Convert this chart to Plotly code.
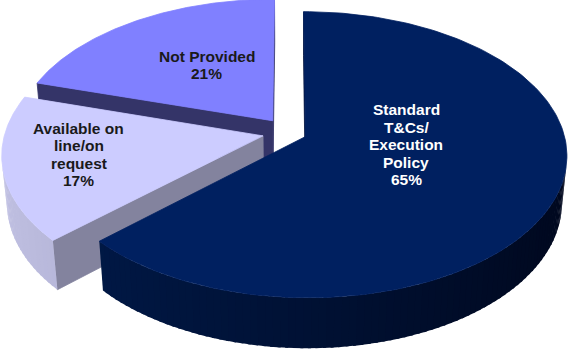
import numpy as np
import plotly.graph_objects as go

# Slices in clockwise order starting from 12 o'clock
categories = ["Standard<br>T&Cs/<br>Execution<br>Policy",
              "Available on<br>line/on<br>request",
              "Not Provided"]
values = [65, 17, 21]

# Styling per slice
top_colors = ["#002060", "#CCCCFF", "#8080FF"]
side_light = [(0, 26, 74), (192, 192, 226), (70, 70, 140)]
side_dark = [(0, 8, 30), (132, 132, 168), (40, 40, 90)]
radial_colors = ["#00123F", "#83839E", "#343468"]
text_colors = ["#FFFFFF", "#1A1A1A", "#1A1A1A"]
explode = [0.07, 0.103, 0.107]
label_r = [0.39, 0.71, 0.51]
label_turn = [-15.0, 2.5, 4.0]

W, Hpx = 568, 353

# 3D pie projection set-up
ELEV = np.radians(32.8)
DIST = 6.63
SCALE = 258.0
CX, CY = 289.0, 132.6
THICK = 0.22
sinE, cosE = np.sin(ELEV), np.cos(ELEV)
CAM = np.array([0.0, -DIST * cosE, DIST * sinE])


def proj(X, Y, Z):
    X = np.asarray(X, float)
    Y = np.asarray(Y, float)
    Z = np.asarray(Z, float)
    v = Y * sinE + Z * cosE
    w = Y * cosE - Z * sinE
    s = DIST / (DIST + w)
    return CX + SCALE * X * s, CY - SCALE * v * s


def rgb(c):
    return "rgb(%d,%d,%d)" % tuple(int(round(x)) for x in c)


def facing(normal, point):
    return float(np.dot(normal, CAM - np.asarray(point))) > 0


fig = go.Figure()


def poly(xs, ys, color, lw=0.8):
    xs = list(xs) + [xs[0]]
    ys = list(ys) + [ys[0]]
    fig.add_trace(go.Scatter(x=xs, y=ys, mode="lines", fill="toself",
                             fillcolor=color, line=dict(color=color, width=lw),
                             hoverinfo="skip", showlegend=False))


total = float(sum(values))
starts = np.cumsum([0] + values[:-1]) / total * 360.0
spans = np.array(values) / total * 360.0

slices = []
for i in range(len(values)):
    a0 = starts[i]
    a1 = a0 + spans[i]
    mid = np.radians((a0 + a1) / 2)
    off = explode[i] * np.array([np.sin(mid), np.cos(mid), 0.0])
    slices.append((i, a0, a1, off, off[1]))

# paint back-most slices first
order = sorted(slices, key=lambda t: -t[4])

for i, a0, a1, off, _ in order:
    ox, oy = off[0], off[1]
    # radial faces
    for ang, sign in ((a0, -1), (a1, 1)):
        t = np.radians(ang)
        d = np.array([np.sin(t), np.cos(t), 0.0])
        n = sign * np.array([np.cos(t), -np.sin(t), 0.0])
        pm = off + 0.5 * d + np.array([0, 0, -THICK / 2])
        if facing(n, pm):
            X = [ox, ox + d[0], ox + d[0], ox]
            Y = [oy, oy + d[1], oy + d[1], oy]
            Z = [0, 0, -THICK, -THICK]
            px, py = proj(X, Y, Z)
            poly(px, py, radial_colors[i])
    # curved outer wall, shaded by its facing direction (thin overlapping strips)
    step = 1.5
    nseg = max(4, int(np.ceil(spans[i] / step)))
    edges = np.linspace(a0, a1, nseg + 1)
    for k in range(nseg):
        t0 = np.radians(edges[k])
        t1 = np.radians(min(edges[k + 1] + 0.6, a1))
        tm = 0.5 * (np.radians(edges[k]) + np.radians(edges[k + 1]))
        n = np.array([np.sin(tm), np.cos(tm), 0.0])
        pm = off + n + np.array([0, 0, -THICK / 2])
        if not facing(n, pm):
            continue
        ts = np.linspace(t0, t1, 3)
        X = np.concatenate([ox + np.sin(ts), ox + np.sin(ts[::-1])])
        Y = np.concatenate([oy + np.cos(ts), oy + np.cos(ts[::-1])])
        Z = np.concatenate([np.zeros(3), -THICK * np.ones(3)])
        px, py = proj(X, Y, Z)
        f = (1 - np.sin(tm)) / 2
        c = np.array(side_dark[i]) + (np.array(side_light[i]) - np.array(side_dark[i])) * f
        poly(px, py, rgb(c), lw=0)
    # top face
    ts = np.radians(np.linspace(a0, a1, 160))
    X = np.concatenate([[ox], ox + np.sin(ts)])
    Y = np.concatenate([[oy], oy + np.cos(ts)])
    px, py = proj(X, Y, np.zeros(len(X)))
    poly(px, py, top_colors[i])

# labels: category name and value, one annotation per line
LINE_PITCH = 17.5
for i, a0, a1, off, _ in slices:
    t = np.radians((a0 + a1) / 2 + label_turn[i])
    lx, ly = proj(off[0] + label_r[i] * np.sin(t), off[1] + label_r[i] * np.cos(t), 0.0)
    lines = categories[i].split("<br>") + ["%d%%" % values[i]]
    n = len(lines)
    for j, txt in enumerate(lines):
        fig.add_annotation(x=float(lx), y=float(ly) + (j - (n - 1) / 2) * LINE_PITCH,
                           xref="x", yref="y", text="<b>%s</b>" % txt, showarrow=False,
                           xanchor="center", yanchor="middle",
                           font=dict(family="Liberation Sans, Arial, sans-serif",
                                     size=15.5, color=text_colors[i]))

fig.update_layout(
    width=W, height=Hpx,
    margin=dict(l=0, r=0, t=0, b=0),
    paper_bgcolor="white", plot_bgcolor="white",
    xaxis=dict(range=[0, W], visible=False, fixedrange=True),
    yaxis=dict(range=[Hpx, 0], visible=False, fixedrange=True),
    showlegend=False,
)

fig.write_html("out.html")
